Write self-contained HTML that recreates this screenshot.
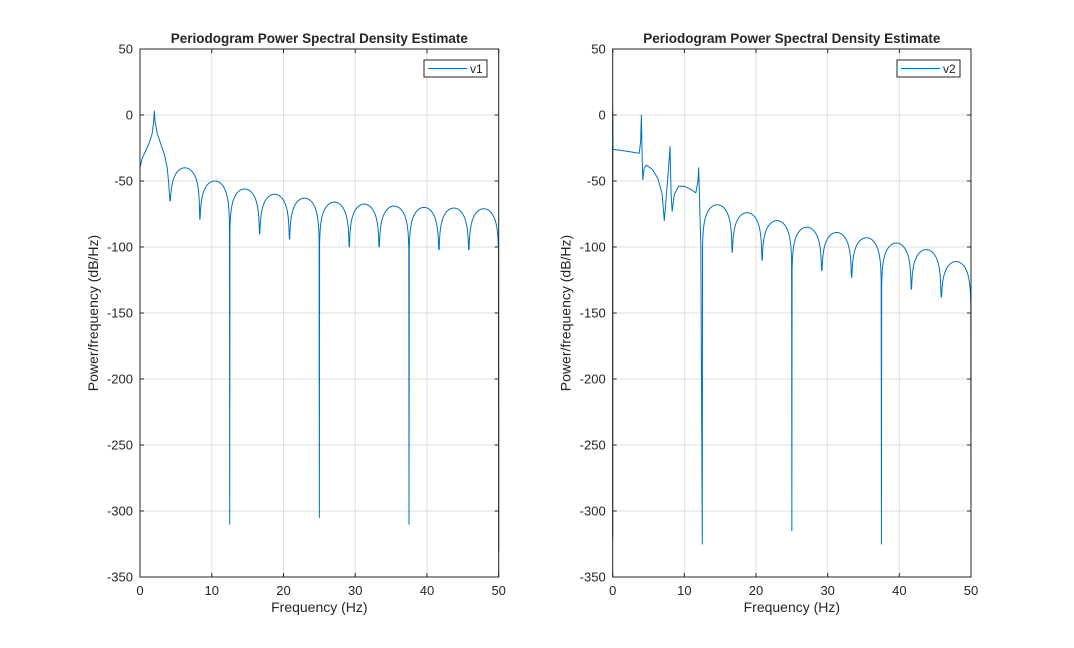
<!DOCTYPE html>
<html><head><meta charset="utf-8"><style>
html,body{margin:0;padding:0;background:#fff;width:1074px;height:648px;overflow:hidden}
svg text{font-family:"Liberation Sans",Arial,sans-serif;fill:#262626}
</style></head><body>
<svg id="s" width="1074" height="648" xmlns="http://www.w3.org/2000/svg"></svg>
<script>
const S=document.getElementById('s');let h='';
function ax(X0,X1,name,lx0,lx1,draw){
 const Y0=49,Y1=577;
 const fx=f=>X0+(X1-X0)*f/50, fy=d=>Y0+(50-d)*(Y1-Y0)/400;
 for(let f=0;f<=50;f+=10){const x=fx(f);h+=`<line x1="${x}" y1="${Y0}" x2="${x}" y2="${Y1}" stroke="#dfdfdf" stroke-width="1"/>`;
  h+=`<line x1="${x}" y1="${Y1}" x2="${x}" y2="${Y1-4}" stroke="#262626"/><line x1="${x}" y1="${Y0}" x2="${x}" y2="${Y0+4}" stroke="#262626"/>`;
  h+=`<text x="${x}" y="${Y1+18}" font-size="13" text-anchor="middle">${f}</text>`;}
 for(let d=50;d>=-350;d-=50){const y=fy(d);h+=`<line x1="${X0}" y1="${y}" x2="${X1}" y2="${y}" stroke="#dfdfdf"/>`;
  h+=`<line x1="${X0}" y1="${y}" x2="${X0+4}" y2="${y}" stroke="#262626"/><line x1="${X1}" y1="${y}" x2="${X1-4}" y2="${y}" stroke="#262626"/>`;
  h+=`<text x="${X0-7}" y="${y+4.5}" font-size="13" text-anchor="end">${d}</text>`;}
 h+=`<path d="${draw(fx,fy)}" fill="none" stroke="#0072bd" stroke-width="1" stroke-linejoin="round"/>`;
 h+=`<rect x="${X0}" y="${Y0}" width="${X1-X0}" height="${Y1-Y0}" fill="none" stroke="#262626"/>`;
 h+=`<text x="${(X0+X1)/2}" y="43" font-size="13.5" font-weight="bold" text-anchor="middle">Periodogram Power Spectral Density Estimate</text>`;
 h+=`<text x="${(X0+X1)/2}" y="612" font-size="14" text-anchor="middle">Frequency (Hz)</text>`;
 h+=`<text transform="translate(${X0-42},313) rotate(-90)" font-size="14" text-anchor="middle">Power/frequency (dB/Hz)</text>`;
 h+=`<rect x="${lx0}" y="60" width="63" height="17" fill="#fff" stroke="#262626"/><line x1="${lx0+4}" y1="68.5" x2="${lx0+43}" y2="68.5" stroke="#0072bd"/><text x="${lx0+46}" y="73" font-size="12">${name}</text>`;
}
function lobes(pts,nulls,peaks,depths,fx,fy){
 for(let k=0;k<peaks.length;k++){const a=nulls[k],b=nulls[k+1];
  for(let i=0;i<=120;i++){let t=i/120;let v;
   if(i==0)v=depths[k];else if(i==120)v=depths[k+1];
   else{v=peaks[k]+20*Math.log10(Math.sin(Math.PI*t));
    const lim=t<0.5?depths[k]:depths[k+1];if(v<lim)v=lim;}
   pts.push([a+(b-a)*t,v]);}}
}
function toPath(pts,fx,fy){return pts.map((p,i)=>(i?'L':'M')+fx(p[0]).toFixed(2)+' '+fy(p[1]).toFixed(2)).join(' ');}
const N=25/6;
ax(140,498.7,'v1',424,487,(fx,fy)=>{
 let p=[[0,-320],[0,-40],[0.3,-33],[0.8,-27],[1.3,-21],[1.7,-14],[1.9,-5],[2,3],[2.1,-5],[2.4,-14],[2.9,-22],[3.4,-30],[3.8,-40],[4.0,-52],[N,-65]];
 const nulls=[];for(let i=1;i<=12;i++)nulls.push(i*N);
 lobes(p,nulls,[-40,-50,-56,-60,-63,-66,-67.5,-69,-70,-70.5,-71],[-65,-79,-310,-90,-94,-305,-100,-100,-310,-102,-102,-330],fx,fy);
 return toPath(p,fx,fy);});
ax(612.7,971,'v2',897,960,(fx,fy)=>{
 let p=[[0,-320],[0,3],[0.05,-26],[2,-27.5],[3.7,-29],[3.9,-20],[4.0,0],[4.1,-30],[4.2,-49],[4.4,-40],[4.7,-38],[5.5,-41],[6.3,-48],[6.9,-60],[7.2,-80],[7.5,-60],[7.8,-40],[8.0,-24],[8.15,-60],[8.3,-73],[8.6,-60],[9.2,-54],[10,-54],[10.8,-56],[11.6,-59],[11.9,-50],[12.0,-40],[12.1,-60],[12.3,-100],[12.5,-325]];
 const nulls=[];for(let i=3;i<=12;i++)nulls.push(i*N);
 lobes(p,nulls,[-68,-74,-80,-85,-89,-93,-97,-102,-111],[-325,-104,-110,-315,-118,-123,-325,-132,-138,-310],fx,fy);
 return toPath(p,fx,fy);});
S.innerHTML=h;
</script>
</body></html>
